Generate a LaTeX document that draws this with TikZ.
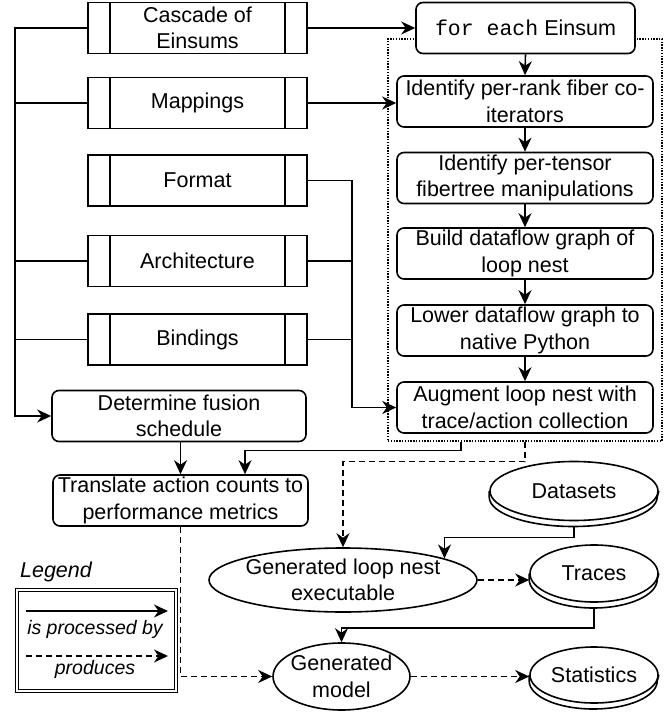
\documentclass[tikz,border=0pt]{standalone}
\usepackage{fontspec}
\setmainfont{Liberation Sans}
\setmonofont{Liberation Mono}
\usepackage{tikz}
\usetikzlibrary{positioning}
\usetikzlibrary{shapes.geometric}
\usetikzlibrary{arrows.meta}

\begin{document}
\begin{tikzpicture}[x=1pt, y=1pt, line width=1.6pt,
			font=\fontsize{21.5}{26.5}\selectfont,
			arr/.style={-{Stealth[length=14pt, width=13pt, inset=4.5pt]}},
			prod/.style={arr, dash pattern=on 6pt off 4pt},
			proc/.style={draw, align=center, inner sep=0pt, minimum width=219pt, minimum height=51pt,
				path picture={
					\draw ([xshift=22pt]path picture bounding box.north west) -- ([xshift=22pt]path picture bounding box.south west);
					\draw ([xshift=-22pt]path picture bounding box.north east) -- ([xshift=-22pt]path picture bounding box.south east);}},
			task/.style={draw, align=center, rounded corners=7pt, inner sep=0pt, minimum height=51pt},
			disc/.style={draw, ellipse, align=center, inner sep=-10pt},
			lgd/.style={font=\fontsize{19.5}{24}\selectfont\itshape}]
			    		\useasboundingbox (0,0) rectangle (664,-727);
			    		% inputs
			    		\node[proc] (casc) at (197.5,-28) {Cascade of\\Einsums};
			    		\node[proc] (mapp) at (197.5,-103) {Mappings};
			    		\node[proc] (fmt) at (197.5,-180.5) {Format};
			    		\node[proc] (arch) at (197.5,-261) {Architecture};
			    		\node[proc] (bind) at (197.5,-339.5) {Bindings};
			    		\node[task, minimum width=254pt] (fusion) at (179,-416) {Determine fusion\\schedule};
			    		\node[task, minimum width=255pt] (trans) at (180.5,-500.5) {Translate action counts to\\performance metrics};
			    		% code generation
			    		\node[draw, dash pattern=on 1.4pt off 1.4pt, line width=1.3pt, minimum width=274pt, minimum height=402pt] (codegen) at (525,-240) {};
			    		\node[task, fill=white, minimum width=219pt] (foreach) at (525.5,-28) {\texttt{for each} Einsum};
			    		\node[task, minimum width=256pt] (rank) at (525,-101.5) {Identify per-rank fiber co-\\iterators};
			    		\node[task, minimum width=256pt] (tensor) at (525,-178) {Identify per-tensor\\fibertree manipulations};
			    		\node[task, minimum width=256pt] (build) at (525,-253.5) {Build dataflow graph of\\loop nest};
			    		\node[task, minimum width=256pt] (lower) at (525,-330.5) {Lower dataflow graph to\\native Python};
			    		\node[task, minimum width=256pt] (augm) at (525,-407.5) {Augment loop nest with\\trace/action collection};
			    		% outputs
			    		\node[disc, minimum width=268pt, minimum height=64pt] (exe) at (343,-580) {Generated loop nest\\executable};
			    		\node[disc, minimum width=137pt, minimum height=67pt] (model) at (341.5,-676.5) {Generated\\model};
			    		\node[disc, minimum width=168pt, minimum height=59pt] (datasets) at (574,-491) {Datasets};
			    		\node[disc, minimum width=128pt, minimum height=57pt] (traces) at (594,-573.5) {Traces};
			    		\node[disc, minimum width=128pt, minimum height=56pt] (stats) at (594,-675) {Statistics};
			    		\foreach \n/\rx/\ry in {datasets/84/29.5, traces/64/28.5, stats/64/28}
			    			\draw (\n.west) -- ++(0,-6) arc[start angle=180, end angle=360, x radius=\rx pt, y radius=\ry pt] -- (\n.east);
			    		% connectors
			    		\coordinate (lbus) at (15,-28);
			    		\coordinate (rbus) at (352,-180.5);
			    		\draw[arr] (casc) -- (foreach);
			    		\draw[arr] (mapp.east) -- (mapp.east -| rank.west);
			    		\draw[arr] (casc.west) -- (lbus) |- (fusion.west);
			    		\foreach \n in {mapp, arch, bind}
			    			\draw (\n.west) -- (\n.west -| lbus);
			    		\draw[arr] (fmt.east) -- (rbus) |- (augm.west);
			    		\foreach \n in {arch, bind}
			    			\draw (\n.east) -- (\n.east -| rbus);
			    		\foreach \a/\b in {foreach/rank, rank/tensor, tensor/build, build/lower, lower/augm}
			    			\draw[arr] (\a.south) -- (\b.north);
			    		\draw[arr] (fusion.south -| trans.north) -- (trans.north);
			    		\draw[arr] ([xshift=-64pt]codegen.south) -- ++(0,-9) -| ([xshift=64.5pt]trans.north);
			    		\draw[prod] (codegen.south) -- ++(0,-20) -| (exe.north);
			    		\draw[arr] ([yshift=-6pt]datasets.south) -- ++(0,-10) -| (exe.12.8);
			    		\draw[prod] (exe.east) -- (exe.east -| traces.west);
			    		\draw[arr] ([yshift=-6pt]traces.south) -- ++(0,-19) -| (model.north);
			    		\draw[prod] (model.east) -- (model.east -| stats.west);
			    		\draw[prod] (trans.south) |- (model.west);
			    		% legend
			    		\node[anchor=west, font=\fontsize{21.5}{26.5}\selectfont\itshape] (legendtitle) at (16,-572) {Legend};
			    		\node[draw, double, double distance=2.4pt, line width=1.2pt, minimum width=159pt, minimum height=101pt] (legend) at (96.5,-640.5) {};
			    		\coordinate (la) at (26,-611);
			    		\coordinate (lb) at (168,-611);
			    		\coordinate (lc) at (26,-656);
			    		\coordinate (ld) at (168,-656);
			    		\draw[arr] (la) -- (lb);
			    		\node[lgd] (lproc) at (95,-629) {is processed by};
			    		\draw[prod] (lc) -- (ld);
			    		\node[lgd] (lprod) at (95,-669) {produces};
			    	\end{tikzpicture}
\end{document}
